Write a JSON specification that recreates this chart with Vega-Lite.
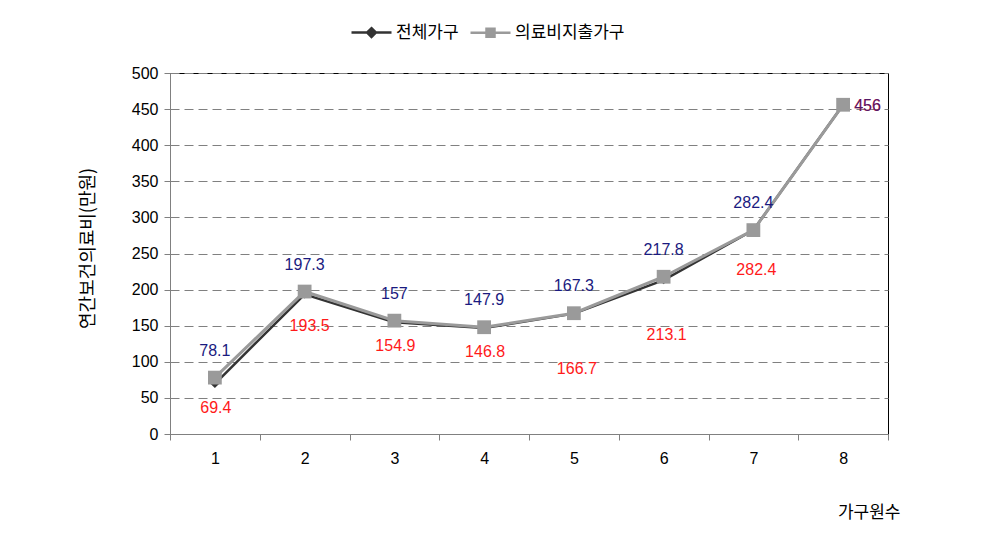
{
  "$schema": "https://vega.github.io/schema/vega-lite/v6.json",
  "width": 718,
  "height": 361,
  "autosize": {"type": "none"},
  "padding": {"left": 170, "top": 73, "right": 102, "bottom": 125},
  "background": "white",
  "config": {
    "view": {"stroke": "#000000", "strokeWidth": 1},
    "font": "Liberation Sans"
  },
  "data": {
    "values": [
      {"가구원수": "1", "series": "전체가구", "value": 69.4},
      {"가구원수": "2", "series": "전체가구", "value": 193.5},
      {"가구원수": "3", "series": "전체가구", "value": 154.9},
      {"가구원수": "4", "series": "전체가구", "value": 146.8},
      {"가구원수": "5", "series": "전체가구", "value": 166.7},
      {"가구원수": "6", "series": "전체가구", "value": 213.1},
      {"가구원수": "7", "series": "전체가구", "value": 282.4},
      {"가구원수": "8", "series": "전체가구", "value": 456},
      {"가구원수": "1", "series": "의료비지출가구", "value": 78.1},
      {"가구원수": "2", "series": "의료비지출가구", "value": 197.3},
      {"가구원수": "3", "series": "의료비지출가구", "value": 157},
      {"가구원수": "4", "series": "의료비지출가구", "value": 147.9},
      {"가구원수": "5", "series": "의료비지출가구", "value": 167.3},
      {"가구원수": "6", "series": "의료비지출가구", "value": 217.8},
      {"가구원수": "7", "series": "의료비지출가구", "value": 282.4},
      {"가구원수": "8", "series": "의료비지출가구", "value": 456}
    ]
  },
  "encoding": {
    "x": {
      "field": "가구원수",
      "type": "ordinal",
      "bandPosition": 0.5,
      "scale": {"type": "band", "paddingInner": 0, "paddingOuter": 0},
      "axis": {
        "title": "가구원수",
        "titleFont": "Noto Sans CJK KR",
        "titleFontSize": 17,
        "titleFontWeight": "normal",
        "titleColor": "#000000",
        "titleAnchor": "end",
        "titleAlign": "right",
        "titleBaseline": "middle",
        "titleX": 730,
        "titleY": 78,
        "labelAngle": 0,
        "labelFontSize": 16,
        "labelColor": "#000000",
        "labelPadding": 10,
        "tickBand": "extent",
        "tickSize": 6,
        "tickColor": "#808080",
        "domainColor": "#808080",
        "grid": false
      }
    },
    "y": {
      "field": "value",
      "type": "quantitative",
      "scale": {"domain": [0, 500], "nice": false},
      "axis": {
        "title": "연간보건의료비(만원)",
        "titleFont": "Noto Sans CJK KR",
        "titleFontSize": 18,
        "titleFontWeight": "normal",
        "titleColor": "#000000",
        "titleX": -82,
        "titleY": 175,
        "titleAlign": "center",
        "titleBaseline": "middle",
        "values": [0, 50, 100, 150, 200, 250, 300, 350, 400, 450, 500],
        "labelFontSize": 16,
        "labelColor": "#000000",
        "labelPadding": 6,
        "tickSize": 6,
        "tickColor": "#808080",
        "domainColor": "#808080",
        "grid": true,
        "gridColor": "#808080",
        "gridDash": [9, 5],
        "gridWidth": 1
      }
    }
  },
  "layer": [
    {
      "transform": [{"filter": "datum.series === '전체가구'"}],
      "mark": {"type": "line", "color": "#333333", "strokeWidth": 2.5}
    },
    {
      "transform": [{"filter": "datum.series === '의료비지출가구'"}],
      "mark": {"type": "line", "color": "#9a9a9a", "strokeWidth": 3}
    },
    {
      "transform": [{"filter": "datum.series === '전체가구'"}],
      "mark": {"type": "point", "shape": "diamond", "filled": true, "color": "#333333", "size": 70, "opacity": 1}
    },
    {
      "transform": [{"filter": "datum.series === '의료비지출가구'"}],
      "mark": {"type": "point", "shape": "square", "filled": true, "color": "#9a9a9a", "size": 190, "opacity": 1}
    },
    {
      "mark": {"type": "point", "size": 0, "filled": true, "opacity": 1, "strokeWidth": 0},
      "encoding": {
        "fill": {
          "field": "series", "type": "nominal",
          "scale": {"domain": ["전체가구", "의료비지출가구"], "range": ["#333333", "#9a9a9a"]},
          "legend": {
            "title": null,
            "orient": "none",
            "legendX": 180,
            "legendY": -62,
            "direction": "horizontal",
            "symbolSize": 1600,
            "symbolStrokeWidth": 2.5,
            "labelFont": "Noto Sans CJK KR",
            "labelFontSize": 17,
            "labelColor": "#000000",
            "labelOffset": 3,
            "columnPadding": 6
          }
        },
        "stroke": {
          "field": "series", "type": "nominal",
          "scale": {"domain": ["전체가구", "의료비지출가구"], "range": ["#333333", "#9a9a9a"]}
        },
        "shape": {
          "field": "series", "type": "nominal",
          "scale": {"domain": ["전체가구", "의료비지출가구"], "range": ["M-1,0L1,0M0,-0.22L0.22,0L0,0.22L-0.22,0Z", "M-1,0L1,0M-0.2,-0.2L0.2,-0.2L0.2,0.2L-0.2,0.2Z"]}
        }
      }
    },
    {
      "transform": [{"filter": "datum.series === '전체가구' && indexof(['1','3','4'], datum['가구원수']) >= 0"}],
      "mark": {"type": "text", "color": "#ff1a1a", "fontSize": 16, "dy": 24, "dx": 1},
      "encoding": {"text": {"field": "value", "type": "quantitative"}}
    },
    {
      "transform": [{"filter": "datum.series === '전체가구' && datum['가구원수'] === '2'"}],
      "mark": {"type": "text", "color": "#ff1a1a", "fontSize": 16, "dy": 32, "dx": 5},
      "encoding": {"text": {"field": "value", "type": "quantitative"}}
    },
    {
      "transform": [{"filter": "datum.series === '전체가구' && indexof(['5','6'], datum['가구원수']) >= 0"}],
      "mark": {"type": "text", "color": "#ff1a1a", "fontSize": 16, "dy": 55, "dx": 3},
      "encoding": {"text": {"field": "value", "type": "quantitative"}}
    },
    {
      "transform": [{"filter": "datum.series === '전체가구' && datum['가구원수'] === '7'"}],
      "mark": {"type": "text", "color": "#ff1a1a", "fontSize": 16, "dy": 40, "dx": 3},
      "encoding": {"text": {"field": "value", "type": "quantitative"}}
    },
    {
      "transform": [{"filter": "datum.series === '전체가구' && datum['가구원수'] === '8'"}],
      "mark": {"type": "text", "color": "#ff1a1a", "fontSize": 16, "align": "left", "dx": 11, "dy": 1},
      "encoding": {"text": {"field": "value", "type": "quantitative"}}
    },
    {
      "transform": [{"filter": "datum.series === '의료비지출가구' && datum['가구원수'] !== '8'"}],
      "mark": {"type": "text", "color": "#1a1a80", "fontSize": 16, "dy": -27},
      "encoding": {"text": {"field": "value", "type": "quantitative"}}
    },
    {
      "transform": [{"filter": "datum.series === '의료비지출가구' && datum['가구원수'] === '8'"}],
      "mark": {"type": "text", "color": "#1a1a80", "fontSize": 16, "align": "left", "dx": 11, "dy": 1, "opacity": 0.75},
      "encoding": {"text": {"field": "value", "type": "quantitative"}}
    }
  ]
}
